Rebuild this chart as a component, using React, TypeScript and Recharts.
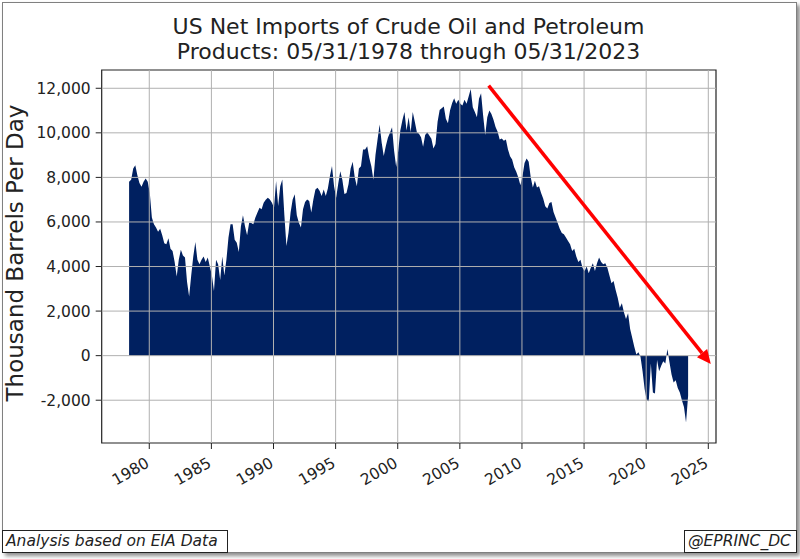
import React from 'react'
import { AreaChart, Area, XAxis, YAxis, ReferenceLine, ReferenceArea } from 'recharts'

// bi-monthly readings (Jan, Mar, May, Jul, Sep, Nov), thousand barrels per day
// series starts May 1978
const firstYear = 1978
const firstMonth = 5
const stepMonths = 2

const imports1970s = [
  7800, 7900, 8400, 8550,
  8100, 7750, 7580, 7800, 7950, 7800,
]
const imports1980s = [
  7300, 6200, 5900, 5750, 5560, 5700,
  5400, 5050, 5000, 5270, 4800, 4700,
  4200, 3550, 4300, 4750, 4500, 4400,
  3300, 2650, 3600, 4450, 5100, 4300,
  4100, 4300, 4450, 4200, 4400, 4000,
  3600, 2900, 4300, 4100, 3400, 4450,
  3600, 4300, 5300, 5900, 5900, 5200,
  5070, 4650, 5800, 6300, 5800, 5400,
  5970, 5950, 5900, 6200, 6420, 6640,
  6570, 6860, 7000, 7090, 7010, 6860,
]
const imports1990s = [
  6640, 7840, 6720, 7600, 7910, 6300,
  4920, 5520, 6420, 7010, 7240, 6300,
  5970, 5750, 6570, 6900, 7010, 6940,
  6420, 7010, 7460, 7540, 7400, 7160,
  7460, 7160, 7500, 8060, 8510, 7600,
  7090, 7700, 8280, 7900, 7250, 7300,
  7700, 8400, 8700, 8000, 7600, 8400,
  8500, 9250, 9250, 9400, 8880, 8500,
  7900, 9000, 9700, 10370, 9560, 8960,
  9410, 9780, 10000, 10250, 9200, 8470,
]
const imports2000s = [
  9200, 10100, 10560, 10930, 10100, 10700,
  10030, 10930, 10500, 10030, 9960, 9800,
  9380, 9900, 10030, 9880, 9730, 9300,
  9500, 10500, 11030, 11100, 11180, 10630,
  10430, 11000, 11330, 11550, 11300, 11480,
  11300, 11230, 11480, 11300, 11630, 11970,
  11150, 10930, 10700, 11530, 11780, 10780,
  9900, 10700, 11000, 10850, 10590, 10260,
  10050, 9700, 9750, 9650, 9700, 9250,
  8950, 8800, 8450, 8250, 8000, 7650,
]
const imports2010s = [
  8050, 8650, 8850, 8700, 8000, 7550,
  7850, 7550, 7600, 7300, 7050, 6700,
  6600, 6850, 6900, 6450, 6200, 5950,
  5700, 5500, 5450, 5300, 5150, 5000,
  4700, 4800, 4450, 4200, 4300, 3950,
  3800, 4000, 3700, 3950, 4150, 3800,
  4150, 4400, 4200, 4100, 4150, 3950,
  3600, 3250, 3350, 2950, 2600, 2150,
  2350, 1950, 1650, 1900, 1200, 800,
  400, 50, 150, -50, -700, -1500,
]
const imports2020s = [
  -2000, -2050, -350, -1650, -1700, -200,
  -700, -450, -250, -350, 300, -300,
  -850, -1200, -1100, -1450, -1650, -2000,
  -2300, -3000, -1800,
]

const yearTicks = [1980, 1985, 1990, 1995, 2000, 2005, 2010, 2015, 2020, 2025]
const valueTicks = [-2000, 0, 2000, 4000, 6000, 8000, 10000, 12000]

// trend arrow drawn by the author: [year, value]
const arrowStart = { year: 2007.32, value: 12120 }
const arrowEnd = { year: 2025.2, value: -380 }

const allValues = [...imports1970s, ...imports1980s, ...imports1990s, ...imports2000s, ...imports2010s, ...imports2020s]

const data = allValues.map((v, i) => {
  const m = firstYear * 12 + (firstMonth - 1) + i * stepMonths
  return { t: Math.floor(m / 12) + ((m % 12) + 0.5) / 12, value: v }
})

const FONT = '"DejaVu Sans", Verdana, sans-serif'
const NAVY = '#002060'
const GRID = '#b0b0b0'

function YearTick({ x, y, payload }: any) {
  const tx = x + 1
  const ty = y + 15
  return (
    <text x={tx} y={ty} transform={`rotate(-30 ${tx} ${ty})`} textAnchor="end" fontSize={15.5} fill="#222" fontFamily={FONT}>
      {payload.value}
    </text>
  )
}

function Arrow(props: any) {
  const { x1, y1, x2, y2 } = props
  const dx = x2 - x1
  const dy = y2 - y1
  const len = Math.sqrt(dx * dx + dy * dy)
  const ux = dx / len
  const uy = dy / len
  const headLen = 14
  const headW = 6.5
  const bx = x2 - ux * headLen
  const by = y2 - uy * headLen
  return (
    <g>
      <line x1={x1} y1={y1} x2={bx} y2={by} stroke="#ff0000" strokeWidth={3.5} />
      <polygon
        points={`${x2},${y2} ${bx - uy * headW},${by + ux * headW} ${bx + uy * headW},${by - ux * headW}`}
        fill="#ff0000"
      />
    </g>
  )
}

export default function App() {
  const xDomain: [number, number] = [1976.17, 2025.62]
  const yDomain: [number, number] = [-3920, 12820]

  return (
    <div style={{ position: 'absolute', left: 0, top: 0, width: 800, height: 559, background: '#fff', overflow: 'hidden' }}>
      <div
        style={{
          position: 'absolute', left: 2, top: 2, width: 793, height: 549,
          border: '1px solid #808080', boxShadow: '3px 3px 4px rgba(0,0,0,0.45)', background: '#fff',
        }}
      />
      <div style={{ position: 'absolute', left: 0, top: 0 }}>
        <AreaChart width={800} height={559} data={data} margin={{ top: 70, right: 84, bottom: 86, left: 41.7 }}>
          <XAxis
            dataKey="t" type="number" domain={xDomain} ticks={yearTicks} allowDataOverflow
            height={30} tickSize={6} tickMargin={2} axisLine={false}
            tickLine={{ stroke: '#222' }} tick={<YearTick />}
          />
          <YAxis
            type="number" domain={yDomain} ticks={valueTicks} allowDataOverflow
            width={60} tickSize={6} tickMargin={5} axisLine={false}
            tickLine={{ stroke: '#222' }}
            tick={{ fontSize: 15.5, fill: '#222', fontFamily: FONT }}
            tickFormatter={(v: number) => v.toLocaleString('en-US')}
          />
          <Area type="linear" dataKey="value" baseValue={0} stroke="none" fill={NAVY} fillOpacity={1} isAnimationActive={false} />
          {/* matplotlib grid sits above the fill */}
          {valueTicks.map((v) => (
            <ReferenceLine key={`h${v}`} y={v} stroke={GRID} strokeWidth={1} />
          ))}
          {yearTicks.map((yr) => (
            <ReferenceLine key={`v${yr}`} x={yr} stroke={GRID} strokeWidth={1} />
          ))}
          <ReferenceLine
            segment={[{ x: arrowStart.year, y: arrowStart.value }, { x: arrowEnd.year, y: arrowEnd.value }]}
            ifOverflow="visible"
            shape={Arrow}
          />
          <ReferenceArea x1={xDomain[0]} x2={xDomain[1]} y1={yDomain[0]} y2={yDomain[1]} fill="none" stroke="#222" strokeWidth={1.2} ifOverflow="visible" />
        </AreaChart>
      </div>
      <svg width={800} height={559} style={{ position: 'absolute', left: 0, top: 0, pointerEvents: 'none' }} fontFamily={FONT}>
        <text x={408.5} y={34} textAnchor="middle" fontSize={22} fill="#222">US Net Imports of Crude Oil and Petroleum</text>
        <text x={408.5} y={59} textAnchor="middle" fontSize={22} fill="#222">Products: 05/31/1978 through 05/31/2023</text>
        <text x={23} y={253} transform="rotate(-90 23 253)" textAnchor="middle" fontSize={23} fill="#222">Thousand Barrels Per Day</text>
      </svg>
      <div
        style={{
          position: 'absolute', left: 2, top: 530, width: 221, height: 21, border: '1px solid #222',
          fontFamily: FONT, fontStyle: 'italic', fontSize: 15.5, lineHeight: '21px', paddingLeft: 3, boxSizing: 'content-box',
          color: '#222', whiteSpace: 'nowrap', background: '#fff',
        }}
      >
        Analysis based on EIA Data
      </div>
      <div
        style={{
          position: 'absolute', left: 684, top: 530, width: 108, height: 21, border: '1px solid #222',
          fontFamily: FONT, fontStyle: 'italic', fontSize: 15.5, lineHeight: '21px', paddingLeft: 3,
          color: '#222', whiteSpace: 'nowrap', background: '#fff',
        }}
      >
        @EPRINC_DC
      </div>
    </div>
  )
}
